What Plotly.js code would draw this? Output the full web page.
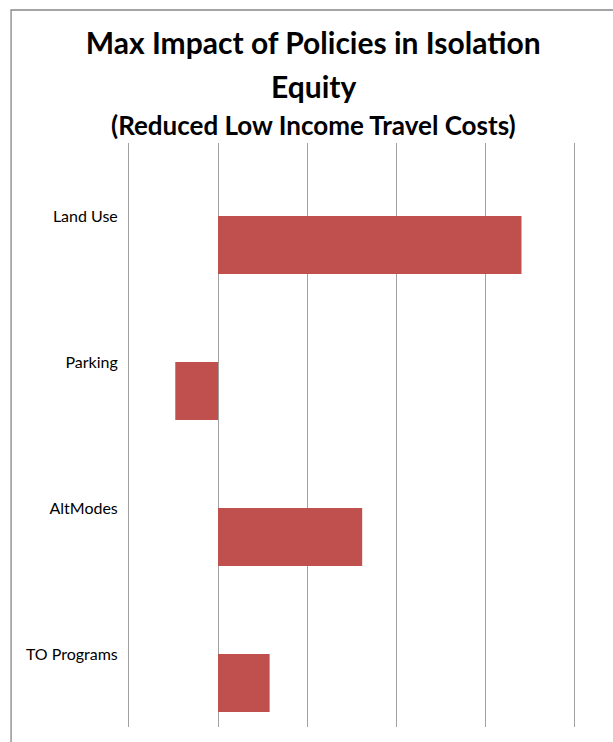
<!DOCTYPE html>
<html>
<head>
<meta charset="utf-8">
<script src="https://cdn.plot.ly/plotly-3.0.1.min.js"></script>
<style>html,body{margin:0;padding:0;background:#fff;}#chart{width:613px;height:742px;}</style>
</head>
<body>
<div id="chart"></div>
<script>
const categories = ["Land Use", "Parking", "AltModes", "TO Programs"];
const impactValues = [3.41, -0.48, 1.62, 0.58];
const xTickValues = [-1, 0, 1, 2, 3, 4];
const chartTitle = "Max Impact of Policies in Isolation";
const chartTitleLine2 = "Equity";
const chartSubtitle = "(Reduced Low Income Travel Costs)";

const FONT = "Lato, 'Open Sans', sans-serif";

const trace = {
  type: "bar",
  orientation: "h",
  y: categories,
  x: impactValues,
  offset: 0,
  width: 0.397,
  marker: { color: "#C0504D", line: { color: "#C0504D", width: 0 } },
  hoverinfo: "x+y"
};

const layout = {
  width: 613,
  height: 742,
  margin: { l: 129, r: 39, t: 143, b: 15 },
  paper_bgcolor: "#ffffff",
  plot_bgcolor: "#ffffff",
  showlegend: false,
  font: { family: FONT, color: "#000000" },
  title: {
    text: "<b>" + chartTitle + "</b>",
    font: { family: FONT, size: 30, color: "#000000" },
    x: 0.511,
    xref: "container",
    xanchor: "center",
    y: 0.9415,
    yref: "container",
    yanchor: "middle"
  },
  annotations: [
    {
      text: "<b>" + chartTitleLine2 + "</b>",
      xref: "paper", yref: "paper",
      x: 0.4135, y: 1.0976,
      xanchor: "center", yanchor: "middle",
      showarrow: false,
      font: { family: FONT, size: 30, color: "#000000" }
    },
    {
      text: "<b>" + chartSubtitle + "</b>",
      xref: "paper", yref: "paper",
      x: 0.4135, y: 1.0308,
      xanchor: "center", yanchor: "middle",
      showarrow: false,
      font: { family: FONT, size: 26, color: "#000000" }
    }
  ],
  xaxis: {
    range: [-1, 4],
    tickvals: xTickValues,
    showticklabels: false,
    showgrid: true,
    gridcolor: "#A0A0A0",
    gridwidth: 1,
    zeroline: false,
    showline: false,
    ticks: ""
  },
  yaxis: {
    type: "category",
    categoryarray: categories,
    range: [3.5, -0.5],
    showgrid: false,
    zeroline: false,
    showline: true,
    mirror: true,
    linecolor: "#A0A0A0",
    linewidth: 1,
    ticks: "",
    ticklabelstandoff: 7,
    tickfont: { family: FONT, size: 16, color: "#000000" }
  },
  shapes: [{
    type: "rect",
    xref: "paper", yref: "paper",
    x0: -0.265, x1: 1.3,
    y0: -0.2, y1: 1.2277,
    line: { color: "#868686", width: 1.3 },
    fillcolor: "rgba(0,0,0,0)",
    layer: "above"
  }]
};

Plotly.newPlot("chart", [trace], layout, { staticPlot: true, displayModeBar: false });
</script>
</body>
</html>
